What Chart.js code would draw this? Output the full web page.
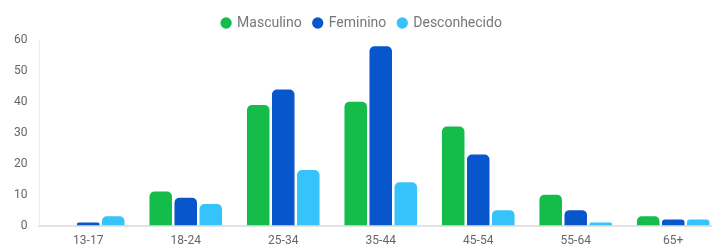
<!DOCTYPE html>
<html>
<head>
<meta charset="utf-8">
<script src="https://cdn.jsdelivr.net/npm/chart.js@4"></script>
<style>
  html, body { margin: 0; padding: 0; background: #fff; overflow: hidden; }
  #wrap { width: 722px; height: 248px; }
</style>
</head>
<body>
<div id="wrap"><canvas id="ageChart"></canvas></div>
<script>
// faixas etárias
const categorias = ['13-17', '18-24', '25-34', '35-44', '45-54', '55-64', '65+'];

// valores por género
const masculino = [0, 11, 39, 40, 32, 10, 3];
const feminino = [1, 9, 44, 58, 23, 5, 2];
const desconhecido = [3, 7, 18, 14, 5, 1, 2];

const ticksY = [0, 10, 20, 30, 40, 50, 60];

const ctx = document.getElementById('ageChart').getContext('2d');
const ageChart = new Chart(ctx, {
  type: 'bar',
  data: {
    labels: categorias,
    datasets: [
      { label: 'Masculino', data: masculino, backgroundColor: '#14bd4a' },
      { label: 'Feminino', data: feminino, backgroundColor: '#0756cc' },
      { label: 'Desconhecido', data: desconhecido, backgroundColor: '#36c2fb' }
    ]
  },
  options: {
    responsive: true,
    maintainAspectRatio: false,
    animation: false,
    categoryPercentage: 0.77,
    barPercentage: 0.9,
    borderRadius: 5,
    borderSkipped: 'bottom',
    layout: { padding: { left: 2, right: 0, top: 4, bottom: -8 } },
    scales: {
      x: {
        grid: { display: false, drawTicks: false },
        border: { display: true, color: '#e2e2e2', width: 2 },
        ticks: { color: '#666', font: { family: 'Roboto', size: 12 }, padding: 8 }
      },
      y: {
        min: 0,
        max: 60,
        afterBuildTicks: axis => { axis.ticks = ticksY.map(v => ({ value: v })); },
        grid: { display: false, drawTicks: false },
        border: { display: true, color: '#ececec', width: 1 },
        ticks: { color: '#666', font: { family: 'Roboto', size: 12 }, padding: 12 }
      }
    },
    plugins: {
      legend: {
        display: true,
        labels: {
          usePointStyle: true,
          pointStyle: 'circle',
          boxWidth: 8,
          boxHeight: 8,
          color: '#777',
          font: { family: 'Roboto', size: 14 },
          padding: 12
        }
      },
      tooltip: { enabled: false }
    }
  }
});
</script>
</body>
</html>
